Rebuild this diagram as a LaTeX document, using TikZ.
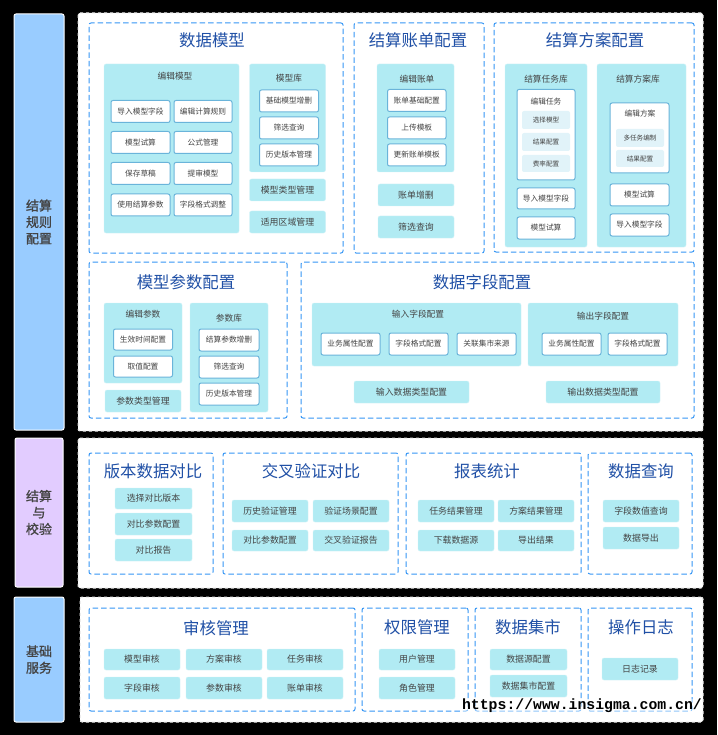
\documentclass[tikz,border=0pt]{standalone}
\usepackage{fontspec}
\setmainfont{Noto Sans CJK SC}
\newfontfamily\barfont[FakeBold=1.2]{Noto Sans CJK SC}
\newfontfamily\wmfont{Liberation Mono}
\definecolor{barblue}{HTML}{99CCFF}
\definecolor{barpurple}{HTML}{E2CCFF}
\definecolor{teal}{HTML}{B1EBF3}
\definecolor{lightb}{HTML}{E1F3F9}
\definecolor{edgeb}{HTML}{6AB4DA}
\definecolor{dashb}{HTML}{3596F5}
\definecolor{titleb}{HTML}{2050A6}
\definecolor{ink}{HTML}{444444}
\newcounter{bxn}
\newcommand{\bx}[6]{\stepcounter{bxn}\node[#1,minimum width={(#4-#2)*1pt},minimum height={(#5-#3)*1pt}] (n\arabic{bxn}) at ({(#2+#4)/2},{(#3+#5)/2}) {#6};}
\newcommand{\lb}[4]{\stepcounter{bxn}\node[#1] (n\arabic{bxn}) at (#2,#3) {#4};}
\tikzset{
 base/.style={inner sep=0pt,outer sep=0pt,rounded corners=2pt,align=center,text=ink},
 sidebar/.style={base,draw=white,line width=1pt,font=\barfont\fontsize{13}{16.5}\selectfont},
 panel/.style={base,fill=white,draw=black!10,line width=1pt,dashed},
 group/.style={base,draw=dashb,line width=1pt,dash pattern=on 5.5pt off 3pt},
 title/.style={inner sep=0pt,text=titleb,font=\fontsize{16.4}{18}\selectfont},
 tealbox/.style={base,fill=teal,draw=teal!60!white,line width=.4pt,font=\fontsize{8.9}{10}\selectfont},
 whitebox/.style={base,fill=white,draw=edgeb,line width=1pt,font=\fontsize{7.7}{9}\selectfont},
 tinybox/.style={base,fill=lightb,font=\fontsize{6.6}{8}\selectfont},
 head/.style={inner sep=0pt,text=ink,font=\fontsize{8.7}{10}\selectfont},
 smallhead/.style={inner sep=0pt,text=ink,font=\fontsize{7.7}{9}\selectfont},
}
\begin{document}
\begin{tikzpicture}[x=1pt,y=-1pt]
\useasboundingbox (0,0) rectangle (717,735);
\fill[black] (0,0) rectangle (717,735);
% side bars
\bx{sidebar,fill=barblue}{14}{14}{64}{430}{结算\\规则\\配置}
\bx{sidebar,fill=barpurple}{15}{438}{63}{587}{结算\\与\\校验}
\bx{sidebar,fill=barblue}{14}{597}{64}{722}{基础\\服务}
% panels
\bx{panel}{78}{13}{703}{431}{}
\bx{panel}{78}{438}{703}{588}{}
\bx{panel}{80}{597}{703}{722}{}
% ---- 数据模型
\bx{group}{89}{23}{343}{253}{}
\lb{title}{212}{40}{数据模型}
\bx{tealbox}{104}{64}{239}{233}{}
\lb{head}{175}{76}{编辑模型}
\bx{whitebox}{111}{100.5}{170}{122.5}{导入模型字段}
\bx{whitebox}{174}{100.5}{232}{122.5}{编辑计算规则}
\bx{whitebox}{111}{131.5}{170}{153.5}{模型试算}
\bx{whitebox}{174}{131.5}{232}{153.5}{公式管理}
\bx{whitebox}{111}{162.5}{170}{184.5}{保存草稿}
\bx{whitebox}{174}{162.5}{232}{184.5}{提审模型}
\bx{whitebox}{111}{194}{170}{216}{使用结算参数}
\bx{whitebox}{174}{194}{232}{216}{字段格式调整}
\bx{tealbox}{249.5}{64}{325.5}{172}{}
\lb{head}{289}{78.7}{模型库}
\bx{whitebox}{259.5}{90}{318.5}{112}{基础模型增删}
\bx{whitebox}{259.5}{117}{318.5}{139}{筛选查询}
\bx{whitebox}{259.5}{144}{318.5}{166}{历史版本管理}
\bx{tealbox}{249.5}{179}{325.5}{201}{模型类型管理}
\bx{tealbox}{249.5}{211}{325.5}{233}{适用区域管理}
% ---- 结算账单配置
\bx{group}{354}{23}{484}{253}{}
\lb{title}{418}{40}{结算账单配置}
\bx{tealbox}{377}{64}{454}{172}{}
\lb{head}{417}{79}{编辑账单}
\bx{whitebox}{387.5}{89.5}{446}{111.5}{账单基础配置}
\bx{whitebox}{387.5}{117}{446}{139}{上传模板}
\bx{whitebox}{387.5}{144}{446}{166}{更新账单模板}
\bx{tealbox}{378}{184}{454}{206}{账单增删}
\bx{tealbox}{378}{216}{454}{238}{筛选查询}
% ---- 结算方案配置
\bx{group}{494}{23}{694}{252}{}
\lb{title}{595}{40}{结算方案配置}
\bx{tealbox}{505}{64}{587}{247}{}
\lb{head}{546}{79}{结算任务库}
\bx{whitebox}{517}{89.5}{575}{180}{}
\lb{smallhead}{546}{102}{编辑任务}
\bx{tinybox}{522}{111}{570}{129}{选择模型}
\bx{tinybox}{522}{133}{570}{151}{结果配置}
\bx{tinybox}{522}{155}{570}{172}{费率配置}
\bx{whitebox}{517}{188}{575}{209}{导入模型字段}
\bx{whitebox}{517}{217}{575}{239}{模型试算}
\bx{tealbox}{597}{64}{686}{247}{}
\lb{head}{638}{79}{结算方案库}
\bx{whitebox}{610}{103}{669}{173}{}
\lb{smallhead}{640}{114}{编辑方案}
\bx{tinybox}{616}{129}{664}{147}{多任务编制}
\bx{tinybox}{616}{150}{664}{167}{结果配置}
\bx{whitebox}{610}{184}{669}{206}{模型试算}
\bx{whitebox}{610}{214}{669}{236}{导入模型字段}
% ---- 模型参数配置
\bx{group}{89}{262}{287}{418}{}
\lb{title}{186}{282}{模型参数配置}
\bx{tealbox}{104}{303}{182}{383}{}
\lb{head}{143}{314}{编辑参数}
\bx{whitebox}{113.5}{329}{172.5}{350}{生效时间配置}
\bx{whitebox}{113.5}{356}{172.5}{377}{取值配置}
\bx{tealbox}{105}{390}{181}{412}{参数类型管理}
\bx{tealbox}{190}{303}{268}{412}{}
\lb{head}{229}{318}{参数库}
\bx{whitebox}{199}{329}{259}{351}{结算参数增删}
\bx{whitebox}{199}{356}{259}{378}{筛选查询}
\bx{whitebox}{199}{383}{259}{405}{历史版本管理}
% ---- 数据字段配置
\bx{group}{301}{262}{694}{418}{}
\lb{title}{482}{282}{数据字段配置}
\bx{tealbox}{312}{303}{521}{366}{}
\lb{head}{418}{314}{输入字段配置}
\bx{whitebox}{321}{333}{380}{355}{业务属性配置}
\bx{whitebox}{389}{333}{448}{355}{字段格式配置}
\bx{whitebox}{457}{333}{516}{355}{关联集市来源}
\bx{tealbox}{528}{303}{678}{366}{}
\lb{head}{603}{316}{输出字段配置}
\bx{whitebox}{542}{333}{601}{355}{业务属性配置}
\bx{whitebox}{608}{333}{667}{355}{字段格式配置}
\bx{tealbox}{354}{381}{469}{403}{输入数据类型配置}
\bx{tealbox}{546}{381}{660}{403}{输出数据类型配置}
% ---- 版本数据对比
\bx{group}{89}{453}{213}{574}{}
\lb{title}{153}{471}{版本数据对比}
\bx{tealbox}{115}{488}{192}{509}{选择对比版本}
\bx{tealbox}{115}{513}{192}{535}{对比参数配置}
\bx{tealbox}{115}{539}{192}{561}{对比报告}
% ---- 交叉验证对比
\bx{group}{223}{453}{398}{574}{}
\lb{title}{311}{471}{交叉验证对比}
\bx{tealbox}{232}{500}{308}{522}{历史验证管理}
\bx{tealbox}{313}{500}{389}{522}{验证场景配置}
\bx{tealbox}{232}{530}{308}{551}{对比参数配置}
\bx{tealbox}{313}{530}{389}{551}{交叉验证报告}
% ---- 报表统计
\bx{group}{406}{453}{581}{574}{}
\lb{title}{487}{471}{报表统计}
\bx{tealbox}{418}{500}{494}{522}{任务结果管理}
\bx{tealbox}{498}{500}{574}{522}{方案结果管理}
\bx{tealbox}{418}{530}{494}{551}{下载数据源}
\bx{tealbox}{498}{530}{574}{551}{导出结果}
% ---- 数据查询
\bx{group}{588}{453}{692}{574}{}
\lb{title}{641}{471}{数据查询}
\bx{tealbox}{603}{500}{679}{522}{字段数值查询}
\bx{tealbox}{603}{527}{679}{549}{数据导出}
% ---- 审核管理
\bx{group}{89}{608}{355}{711}{}
\lb{title}{216}{628}{审核管理}
\bx{tealbox}{104}{649}{180}{670}{模型审核}
\bx{tealbox}{186}{649}{262}{670}{方案审核}
\bx{tealbox}{267}{649}{343}{670}{任务审核}
\bx{tealbox}{104}{677}{180}{699}{字段审核}
\bx{tealbox}{186}{677}{262}{699}{参数审核}
\bx{tealbox}{267}{677}{343}{699}{账单审核}
% ---- 权限管理
\bx{group}{362}{608}{468}{711}{}
\lb{title}{417}{627}{权限管理}
\bx{tealbox}{379}{649}{455}{670}{用户管理}
\bx{tealbox}{379}{677}{455}{699}{角色管理}
% ---- 数据集市
\bx{group}{475}{608}{581}{711}{}
\lb{title}{528}{627}{数据集市}
\bx{tealbox}{490}{649}{567}{670}{数据源配置}
\bx{tealbox}{490}{675}{567}{697}{数据集市配置}
% ---- 操作日志
\bx{group}{588}{608}{692}{711}{}
\lb{title}{641}{627}{操作日志}
\bx{tealbox}{602}{658}{678}{680}{日志记录}
% watermark
\node[fill=white,fill opacity=.45,text opacity=1,text=black,inner sep=0pt,font=\wmfont\bfseries\fontsize{14.8}{15}\selectfont] (wm) at (582,706) {https://www.insigma.com.cn/};
\end{tikzpicture}
\end{document}
